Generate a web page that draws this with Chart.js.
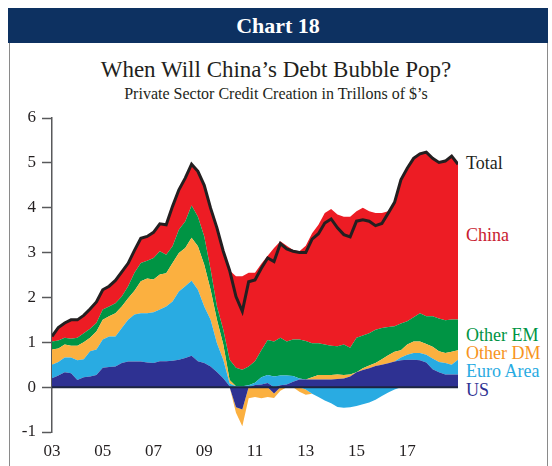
<!DOCTYPE html>
<html><head><meta charset="utf-8">
<script src="https://cdn.jsdelivr.net/npm/chart.js@4.4.1/dist/chart.umd.min.js"></script>
<style>
html,body{margin:0;padding:0;background:#fff;}
body{width:552px;height:466px;position:relative;overflow:hidden;font-family:"Liberation Serif","Times New Roman",serif;}
#frame{position:absolute;left:9px;top:42px;width:537px;height:440px;border-left:1.5px solid #8a8a8a;border-right:1.5px solid #8a8a8a;}
#header{position:absolute;left:8px;top:8px;width:540px;height:35px;background:#0d3161;color:#fff;font-weight:bold;font-size:22px;line-height:35px;text-align:center;}
#title{position:absolute;left:0;width:552px;top:58px;text-align:center;font-size:23px;line-height:24px;color:#231f20;}
#subtitle{position:absolute;left:0;width:552px;top:86px;text-align:center;font-size:16px;line-height:16px;color:#231f20;}
.lab{position:absolute;left:466px;font-size:18px;line-height:18px;white-space:nowrap;}
#c{position:absolute;left:0;top:0;}
</style>
</head><body>
<div id="frame"></div>
<div id="header">Chart 18</div>
<div id="title">When Will China’s Debt Bubble Pop?</div>
<div id="subtitle">Private Sector Credit Creation in Trillons of $’s</div>
<div class="lab" style="top:154px;color:#231f20">Total</div>
<div class="lab" style="top:226px;color:#c8202f">China</div>
<div class="lab" style="top:326px;color:#009444">Other EM</div>
<div class="lab" style="top:344px;color:#f7941d">Other DM</div>
<div class="lab" style="top:362px;color:#29abe2">Euro Area</div>
<div class="lab" style="top:381px;color:#2e3192">US</div>
<canvas id="c" width="552" height="466"></canvas>
<script>
const years = [
 2003.00,2003.25,2003.50,2003.75, 2004.00,2004.25,2004.50,2004.75,
 2005.00,2005.25,2005.50,2005.75, 2006.00,2006.25,2006.50,2006.75,
 2007.00,2007.25,2007.50,2007.75, 2008.00,2008.25,2008.50,2008.75,
 2009.00,2009.25,2009.50,2009.75, 2010.00,2010.25,2010.50,2010.75,
 2011.00,2011.25,2011.50,2011.75, 2012.00,2012.25,2012.50,2012.75,
 2013.00,2013.25,2013.50,2013.75, 2014.00,2014.25,2014.50,2014.75,
 2015.00,2015.25,2015.50,2015.75, 2016.00,2016.25,2016.50,2016.75,
 2017.00,2017.25,2017.50,2017.75, 2018.00,2018.25,2018.50,2018.75,
 2019.00];
const us = [
 0.20,0.26,0.33,0.31, 0.16,0.22,0.24,0.27, 0.43,0.45,0.46,0.54, 0.57,0.57,0.57,0.55,
 0.54,0.58,0.58,0.59, 0.61,0.65,0.70,0.58, 0.54,0.46,0.34,0.20, 0.02,-0.45,-0.50,0.00,
 0.05,0.06,0.09,-0.14, 0.04,0.06,0.12,0.17, 0.17,0.17,0.17,0.17, 0.17,0.18,0.19,0.24,
 0.33,0.38,0.42,0.47, 0.50,0.53,0.57,0.60, 0.61,0.61,0.60,0.55, 0.40,0.33,0.28,0.28,
 0.28];
const euroArea = [
 0.30,0.30,0.33,0.35, 0.44,0.40,0.56,0.57, 0.63,0.68,0.67,0.78, 0.93,1.05,1.08,1.10,
 1.13,1.15,1.22,1.32, 1.52,1.60,1.67,1.59, 1.26,1.04,0.64,0.41, 0.06,0.02,0.02,0.04,
 0.05,0.16,0.18,0.24, 0.22,0.20,0.13,0.02, -0.05,-0.15,-0.22,-0.30, -0.36,-0.44,-0.46,-0.45,
 -0.42,-0.38,-0.34,-0.28, -0.20,-0.12,-0.05,0.06, 0.11,0.15,0.16,0.17, 0.24,0.23,0.26,0.22,
 0.33];
const otherDM = [
 0.34,0.30,0.29,0.26, 0.32,0.38,0.30,0.40, 0.44,0.45,0.52,0.48, 0.48,0.53,0.71,0.77,
 0.73,0.78,0.74,0.86, 0.86,0.85,0.96,0.97, 0.93,0.67,0.52,0.34, 0.08,-0.12,-0.37,-0.25,
 -0.22,-0.25,-0.22,-0.10, -0.08,0.00,0.00,-0.10, -0.12,0.05,0.10,0.10, 0.10,0.10,0.08,0.04,
 0.00,0.04,0.06,0.07, 0.12,0.18,0.22,0.16, 0.23,0.26,0.26,0.24, 0.26,0.24,0.22,0.29,
 0.21];
const otherEM = [
 0.18,0.18,0.15,0.16, 0.18,0.20,0.20,0.19, 0.23,0.22,0.22,0.22, 0.27,0.40,0.41,0.40,
 0.48,0.52,0.41,0.37, 0.52,0.59,0.72,0.66, 0.63,0.45,0.30,0.33, 0.45,0.41,0.37,0.42,
 0.48,0.60,0.78,0.78, 0.84,0.76,0.81,0.87, 0.86,0.76,0.71,0.68, 0.65,0.63,0.68,0.60,
 0.77,0.73,0.72,0.74, 0.70,0.63,0.57,0.60, 0.52,0.54,0.63,0.62, 0.68,0.73,0.73,0.72,
 0.69];
const china = [
 0.11,0.29,0.33,0.42, 0.40,0.40,0.44,0.47, 0.44,0.45,0.51,0.55, 0.51,0.50,0.55,0.54,
 0.57,0.61,0.67,0.89, 0.89,0.97,0.92,1.01, 1.14,1.37,1.75,1.75, 1.99,2.04,2.08,2.09,
 1.97,1.93,1.88,2.08, 2.15,2.13,2.00,1.97, 2.12,2.45,2.64,2.93, 3.05,2.94,2.85,2.92,
 2.82,2.85,2.72,2.60, 2.56,2.58,2.74,3.20, 3.41,3.54,3.55,3.66, 3.52,3.48,3.55,3.64,
 3.46];
const total = [
 1.13,1.33,1.43,1.50, 1.50,1.60,1.74,1.90, 2.17,2.25,2.38,2.57, 2.76,3.05,3.32,3.36,
 3.45,3.64,3.62,4.03, 4.40,4.66,4.97,4.81, 4.50,3.99,3.55,3.03, 2.60,2.02,1.69,2.35,
 2.39,2.65,2.88,2.80, 3.20,3.08,3.03,3.00, 3.00,3.30,3.42,3.66, 3.75,3.55,3.40,3.35,
 3.70,3.73,3.70,3.60, 3.65,3.88,4.12,4.62, 4.88,5.10,5.20,5.24, 5.10,5.01,5.04,5.15,
 4.97];
const yTickValues = [-1,0,1,2,3,4,5,6];
const xTickYears = [2003,2005,2007,2009,2011,2013,2015,2017];

const series = [
  {name:'US', values:us, color:'#2e3192'},
  {name:'Euro Area', values:euroArea, color:'#29abe2'},
  {name:'Other DM', values:otherDM, color:'#fbb040'},
  {name:'Other EM', values:otherEM, color:'#009444'},
  {name:'China', values:china, color:'#ed1c24'}
];
function part(sign){
  return series.map((s,k)=>({
    label: s.name + (sign>0?' (+)':' (-)'),
    data: years.map((x,i)=>({x:x, y: sign>0 ? Math.max(s.values[i],0) : Math.min(s.values[i],0)})),
    stack: sign>0?'pos':'neg',
    fill: k===0 ? 'origin' : '-1',
    backgroundColor: s.color,
    borderColor: s.color,
    borderWidth: 0,
    pointRadius: 0,
    tension: 0
  }));
}
const datasets = [...part(1), ...part(-1), {
  label:'Total',
  data: years.map((x,i)=>({x:x, y:total[i]})),
  stack:'total', fill:false, order:-1,
  borderColor:'#231f20', borderWidth:3, pointRadius:0, tension:0, borderJoinStyle:'miter'
}];

const zeroLine = {
  id:'zeroLine',
  afterDatasetsDraw(chart){
    const {ctx, chartArea, scales} = chart;
    const py = scales.y.getPixelForValue(0);
    ctx.save();
    ctx.strokeStyle = '#1c2541';
    ctx.lineWidth = 2;
    ctx.beginPath();
    ctx.moveTo(chartArea.left, py);
    ctx.lineTo(chartArea.right, py);
    ctx.stroke();
    ctx.restore();
  }
};

new Chart(document.getElementById('c'), {
  type:'line',
  data:{datasets},
  plugins:[zeroLine],
  options:{
    responsive:false, animation:false,
    layout:{padding:{left:10, right:94, top:118, bottom:0}},
    plugins:{legend:{display:false}, tooltip:{enabled:false}},
    scales:{
      x:{
        type:'linear', min:2003, max:2019,
        afterFit(s){ s.height = 34; },
        afterBuildTicks(s){ s.ticks = xTickYears.map(v=>({value:v})); },
        grid:{display:false, drawTicks:false},
        border:{display:false},
        ticks:{padding:9, maxRotation:0, autoSkip:false, color:'#231f20',
          font:{family:'"Liberation Serif", serif', size:17},
          callback:(v)=>String(v).slice(2)}
      },
      y:{
        stacked:true, min:-1, max:6,
        afterFit(s){ s.width = 42; },
        afterBuildTicks(s){ s.ticks = yTickValues.map(v=>({value:v})); },
        grid:{drawOnChartArea:false, drawTicks:true, tickLength:10, tickColor:'#58595b', tickWidth:1.5},
        border:{display:true, color:'#58595b', width:1.5},
        ticks:{padding:6, color:'#231f20', font:{family:'"Liberation Serif", serif', size:17}}
      }
    }
  }
});
</script>
</body></html>
